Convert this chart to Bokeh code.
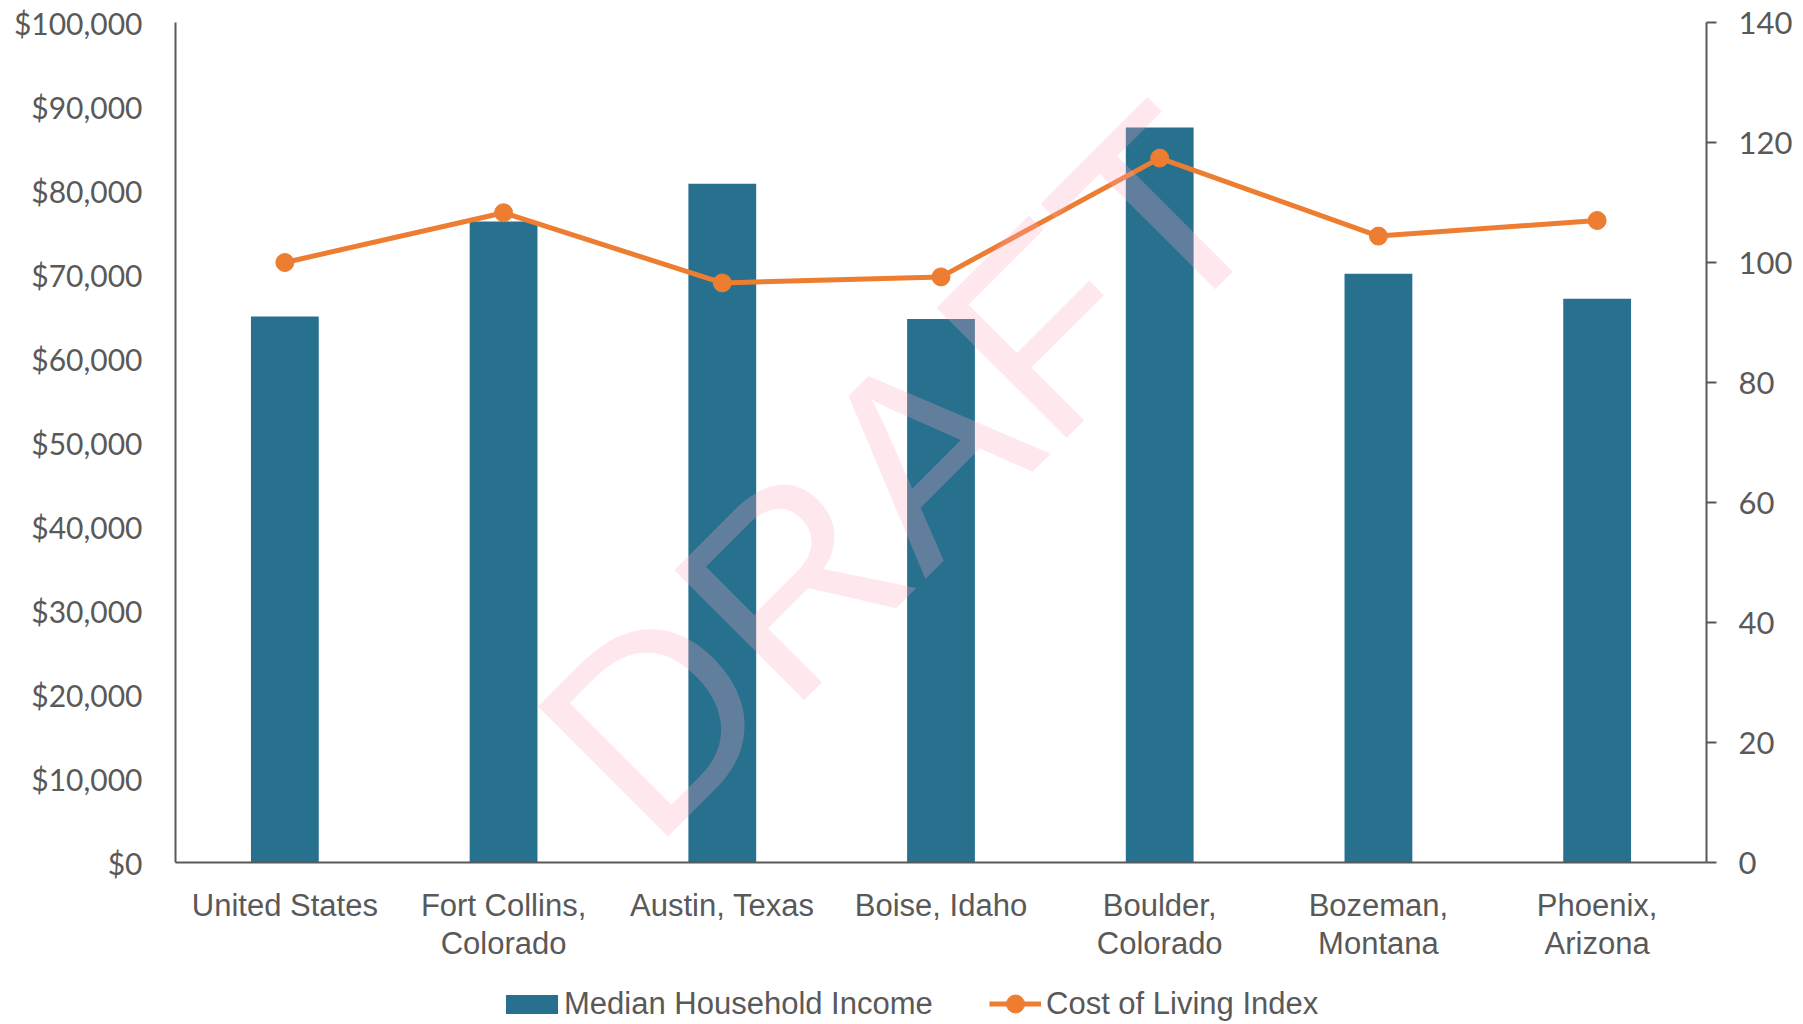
import math
import numpy as np
from bokeh.plotting import figure
from bokeh.layouts import column
from bokeh.models import (FactorRange, Range1d, LinearAxis, FixedTicker,
                          NumeralTickFormatter, Legend, LegendItem, Label,
                          ColumnDataSource)
from bokeh.embed import file_html
from bokeh.resources import INLINE

categories = ["United States", "Fort Collins,\nColorado", "Austin, Texas",
              "Boise, Idaho", "Boulder,\nColorado", "Bozeman,\nMontana",
              "Phoenix,\nArizona"]
median_income = [65000, 76300, 80800, 64700, 87500, 70100, 67100]
cost_of_living = [100.0, 108.3, 96.6, 97.6, 117.4, 104.4, 107.0]
income_ticks = [0, 10000, 20000, 30000, 40000, 50000, 60000, 70000, 80000, 90000, 100000]
index_ticks = [0, 20, 40, 60, 80, 100, 120, 140]
series_names = ["Median Household Income", "Cost of Living Index"]

BAR = "#27718F"
ORANGE = "#ED7D31"
GRAY = "#595959"

src = ColumnDataSource(dict(cat=categories, income=median_income, col=cost_of_living))

p = figure(x_range=FactorRange(*categories), y_range=Range1d(0, 100000),
           width=1795, height=970, output_backend="svg", toolbar_location=None,
           min_border_left=175, min_border_right=85, min_border_top=22,
           min_border_bottom=108)
p.extra_y_ranges = {"idx": Range1d(0, 140)}
p.xgrid.visible = False
p.ygrid.visible = False
p.outline_line_color = None

bars = p.vbar(x="cat", top="income", width=0.31, source=src,
              fill_color=BAR, line_color=None)
line = p.line(x="cat", y="col", source=src, y_range_name="idx",
              line_color=ORANGE, line_width=5)
pts = p.scatter(x="cat", y="col", source=src, y_range_name="idx",
                size=18, fill_color=ORANGE, line_color=ORANGE)

# left axis
ya = p.yaxis[0]
ya.ticker = FixedTicker(ticks=income_ticks)
ya.formatter = NumeralTickFormatter(format="$0,0")
ya.major_tick_out = 0
ya.major_tick_in = 0
ya.minor_tick_out = 0
ya.minor_tick_in = 0
ya.axis_line_color = GRAY
ya.axis_line_width = 2
ya.major_label_text_font = "Lato"
ya.major_label_text_font_size = "30px"
ya.major_label_text_color = GRAY
ya.major_label_standoff = 33

# right axis
ra = LinearAxis(y_range_name="idx", ticker=FixedTicker(ticks=index_ticks))
ra.major_tick_out = 10
ra.major_tick_in = 0
ra.minor_tick_out = 0
ra.minor_tick_in = 0
ra.major_tick_line_color = GRAY
ra.major_tick_line_width = 2
ra.axis_line_color = GRAY
ra.axis_line_width = 2
ra.major_label_text_font = "Lato"
ra.major_label_text_font_size = "31px"
ra.major_label_text_color = GRAY
ra.major_label_standoff = 22
p.add_layout(ra, "right")

# bottom axis
xa = p.xaxis[0]
xa.major_tick_out = 0
xa.major_tick_in = 0
xa.minor_tick_out = 0
xa.axis_line_color = GRAY
xa.axis_line_width = 2
xa.major_label_text_font = "Liberation Sans"
xa.major_label_text_font_size = "31px"
xa.major_label_text_color = GRAY
xa.major_label_text_line_height = 1.1
xa.major_label_standoff = 25

wm = Label(x=3.32, y=46500, text="DRAFT", angle=math.pi / 4,
           text_font="Liberation Sans", text_font_size="267px",
           text_color=(255, 165, 192), text_alpha=0.27,
           text_align="center", text_baseline="alphabetic")
p.add_layout(wm)

# legend strip below the chart (proxy renderers carry no drawable data)
lg = figure(width=1795, height=54, x_range=Range1d(0, 1), y_range=Range1d(0, 1),
            output_backend="svg", toolbar_location=None, min_border=0)
lg.axis.visible = False
lg.grid.visible = False
lg.outline_line_color = None
proxy = ColumnDataSource(dict(x=np.array([np.nan]), y=np.array([np.nan])))
lb = lg.vbar(x="x", top="y", width=0.3, source=proxy, fill_color=BAR, line_color=None)
ll = lg.line(x="x", y="y", source=proxy, line_color=ORANGE, line_width=5)
lp = lg.scatter(x="x", y="y", source=proxy, size=18, fill_color=ORANGE, line_color=ORANGE)

common = dict(orientation="horizontal", label_text_font="Liberation Sans",
              label_text_font_size="31px", label_text_color=GRAY,
              padding=0, margin=0, border_line_color=None,
              background_fill_alpha=0)
legend1 = Legend(items=[LegendItem(label=series_names[0], renderers=[lb])],
                 location=(324, 2), glyph_width=65, glyph_height=24,
                 label_standoff=0, **common)
legend2 = Legend(items=[LegendItem(label=series_names[1], renderers=[ll, lp])],
                 location=(814, -2), glyph_width=52, glyph_height=45,
                 label_standoff=5, **common)
lg.add_layout(legend1)
lg.add_layout(legend2)

layout = column(p, lg, spacing=0)
open("out.html", "w").write(file_html(layout, INLINE))
